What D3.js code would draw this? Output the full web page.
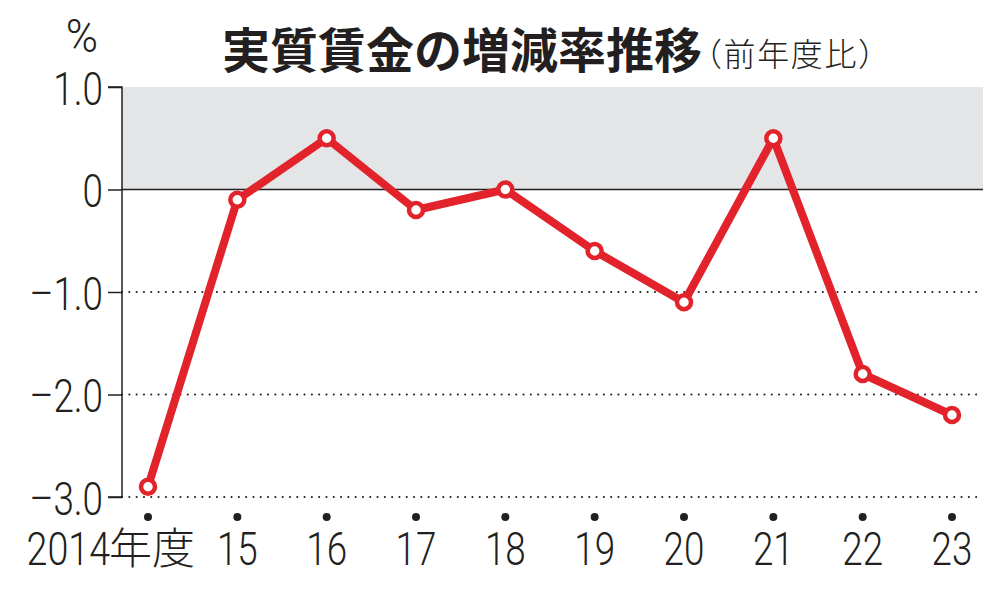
<!DOCTYPE html>
<html>
<head>
<meta charset="utf-8">
<script src="https://cdn.jsdelivr.net/npm/d3@7"></script>
<style>
  body { margin: 0; background: #fff; }
  svg { display: block; }
  .num { font-family: Roboto, "Noto Sans", sans-serif; font-weight: 300; fill: #231f20; }
  .jp { font-family: "Noto Sans CJK JP", sans-serif; fill: #231f20; }
</style>
</head>
<body>
<svg width="1000" height="589"></svg>
<script>
const years = ['2014', '15', '16', '17', '18', '19', '20', '21', '22', '23'];
const values = [-2.9, -0.1, 0.5, -0.2, 0.0, -0.6, -1.1, 0.5, -1.8, -2.2];
const yTicks = [1.0, 0, -1.0, -2.0, -3.0];
const yTickLabels = ['1.0', '0', '\u20131.0', '\u20132.0', '\u20133.0'];

const svg = d3.select('svg');
const left = 122, right = 980;
const squeeze = 0.8;

const x = d3.scalePoint()
  .domain(years)
  .range([148, 952]);

const y = d3.scaleLinear()
  .domain([-3, 1])
  .range([497, 87]);

const red = '#e2232b';

// shaded band above zero
svg.append('rect')
  .attr('x', left)
  .attr('y', y(1))
  .attr('width', right - left + 3)
  .attr('height', y(0) - y(1))
  .attr('fill', '#e4e5e7');

// dotted gridlines
svg.selectAll('.grid')
  .data(yTicks.filter(d => d < 0))
  .enter()
  .append('line')
  .attr('x1', left)
  .attr('x2', right)
  .attr('y1', d => y(d))
  .attr('y2', d => y(d))
  .attr('stroke', '#231f20')
  .attr('stroke-width', 2)
  .attr('stroke-linecap', 'round')
  .attr('stroke-dasharray', '0.1 7.2');

// zero line
svg.append('line')
  .attr('x1', left)
  .attr('x2', right + 3)
  .attr('y1', y(0))
  .attr('y2', y(0))
  .attr('stroke', '#231f20')
  .attr('stroke-width', 1.5);

// y axis
const yAxis = svg.append('g')
  .attr('transform', `translate(${left},0)`)
  .call(d3.axisLeft(y).tickValues(yTicks).tickSize(14).tickFormat((d, i) => yTickLabels[i]));
yAxis.select('.domain').attr('stroke', '#231f20').attr('stroke-width', 1.5).attr('d', `M-14,${y(1)}H0V${y(-3)}H-14`);
yAxis.selectAll('.tick line').attr('stroke', '#231f20').attr('stroke-width', 1.5);
yAxis.selectAll('.tick text')
  .attr('class', 'num')
  .attr('x', null)
  .attr('dy', null)
  .attr('transform', `translate(-19,17) scale(${squeeze},1)`)
  .style('font-size', '46px')
  .attr('fill', '#231f20');

// x dots and labels
svg.selectAll('.xdot')
  .data(years)
  .enter()
  .append('circle')
  .attr('cx', d => x(d))
  .attr('cy', 517)
  .attr('r', 4)
  .attr('fill', '#231f20');

svg.selectAll('.xlab')
  .data(years.slice(1))
  .enter()
  .append('text')
  .attr('class', 'num')
  .attr('transform', d => `translate(${x(d)},565) scale(${squeeze},1)`)
  .attr('text-anchor', 'middle')
  .style('font-size', '46px')
  .text(d => d);

// first label: 2014年度
svg.append('text')
  .attr('class', 'num')
  .attr('transform', `translate(${x(years[0]) - 38},565) scale(${squeeze},1)`)
  .attr('text-anchor', 'end')
  .style('font-size', '47px')
  .text(years[0]);
svg.append('text')
  .attr('class', 'jp')
  .attr('x', x(years[0]) - 39)
  .attr('y', 564)
  .style('font-size', '43px')
  .style('font-weight', '300')
  .text('年度');

// line
svg.append('path')
  .datum(values)
  .attr('fill', 'none')
  .attr('stroke', red)
  .attr('stroke-width', 8)
  .attr('stroke-linejoin', 'round')
  .attr('d', d3.line().x((d, i) => x(years[i])).y(d => y(d)));

svg.selectAll('.pt')
  .data(values)
  .enter()
  .append('circle')
  .attr('cx', (d, i) => x(years[i]))
  .attr('cy', d => y(d))
  .attr('r', 7)
  .attr('fill', '#fff')
  .attr('stroke', red)
  .attr('stroke-width', 4.5);

// unit
svg.append('text')
  .attr('class', 'num')
  .attr('transform', `translate(82,52) scale(0.95,1)`)
  .attr('text-anchor', 'middle')
  .style('font-size', '46px')
  .text('%');

// title
svg.append('text')
  .attr('class', 'jp')
  .attr('x', 222)
  .attr('y', 68)
  .style('font-size', '48px')
  .style('font-weight', 'bold')
  .text('実質賃金の増減率推移');
svg.append('text')
  .attr('class', 'jp')
  .attr('x', 690)
  .attr('y', 66)
  .style('font-size', '32px')
  .style('font-weight', '300')
  .text('（前年度比）')
  .attr('textLength', 200);
</script>
</body>
</html>
